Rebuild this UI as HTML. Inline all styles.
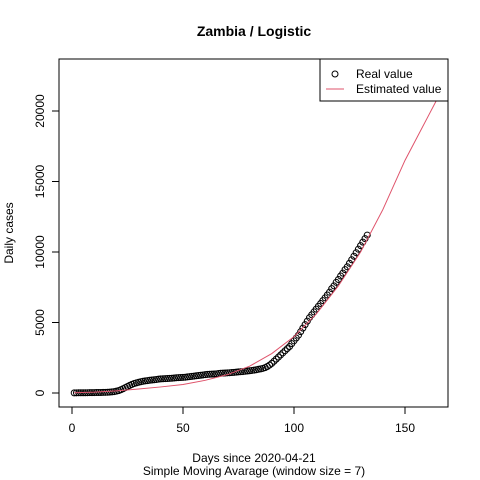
<!DOCTYPE html>
<html><head><meta charset="utf-8"><style>
body{margin:0;background:#fff}
svg{display:block;font-family:"Liberation Sans",Arial,sans-serif}
</style></head><body>
<svg id="chart" width="480" height="480">
<rect width="480" height="480" fill="#fff"/>
<text x="254" y="36" text-anchor="middle" font-weight="bold" font-size="14">Zambia / Logistic</text>
<rect x="59" y="59" width="389" height="348" fill="none" stroke="#000"/>
<g id="xaxis"></g>
<g id="yaxis"></g>
<text x="254" y="462" text-anchor="middle" font-size="12">Days since 2020-04-21</text>
<text x="254" y="475" text-anchor="middle" font-size="12">Simple Moving Avarage (window size = 7)</text>
<text transform="translate(13,233) rotate(-90)" text-anchor="middle" font-size="12">Daily cases</text>
<g id="marks"></g>
<g>
<rect x="320" y="59" width="128" height="42" fill="#fff" stroke="#000"/>
<circle cx="335" cy="74" r="3" fill="none" stroke="#000"/>
<text x="356" y="78" font-size="12">Real value</text>
<line x1="326" y1="89" x2="344" y2="89" stroke="#DF536B"/>
<text x="356" y="93" font-size="12">Estimated value</text>
</g>
</svg>
<script>
const realValues=[10,12,14,16,18,20,22,25,28,30,
32,35,38,42,48,55,65,80,100,130,
170,230,300,380,460,540,610,670,720,760,
800,830,860,880,900,920,940,960,980,1000,
1010,1020,1030,1040,1050,1060,1080,1090,1100,1110,
1120,1140,1160,1180,1200,1220,1240,1260,1280,1300,
1320,1330,1340,1350,1360,1380,1400,1410,1420,1430,
1440,1450,1460,1480,1500,1510,1520,1540,1560,1580,
1600,1620,1650,1680,1710,1750,1800,1880,1980,2100,
2250,2400,2550,2700,2850,3000,3150,3300,3500,3700,
3900,4100,4350,4600,4850,5100,5350,5550,5750,5950,
6150,6350,6550,6750,6950,7150,7400,7600,7850,8050,
8300,8500,8750,8950,9200,9450,9700,9950,10200,10450,
10700,10950,11200];
const estDays=[1,10,20,30,40,50,60,70,80,90,100,110,120,130,140,150,160,165];
const estValues=[20,60,150,280,430,600,900,1300,1900,2800,4000,5600,7600,10000,13000,16500,19500,21000];
const xTicks=[0,50,100,150];
const yTicks=[0,5000,10000,15000,20000];
const X=d=>72+d*(333/150);
const Y=v=>393-v*(282/20000);
const NS="http://www.w3.org/2000/svg";
const mk=(t,a,p)=>{const e=document.createElementNS(NS,t);for(const k in a)e.setAttribute(k,a[k]);p.appendChild(e);return e;};
const xa=document.getElementById('xaxis'),ya=document.getElementById('yaxis'),m=document.getElementById('marks');
mk('line',{x1:X(0),x2:X(150),y1:407,y2:407,stroke:'#000'},xa);
xTicks.forEach(t=>{
 const l=mk('line',{x1:X(t),x2:X(t),y1:407,y2:414,stroke:'#000'},xa);
 
 
 const tx=mk('text',{x:X(t),y:432,'text-anchor':'middle','font-size':12},xa);tx.textContent=t;
 
 
});
mk('line',{x1:59,x2:59,y1:Y(0),y2:Y(20000),stroke:'#000'},ya);
yTicks.forEach(t=>{
 const l=mk('line',{x1:52,x2:59,y1:Y(t),y2:Y(t),stroke:'#000'},ya);
 
 
 const tx=mk('text',{transform:`translate(44,${Y(t)}) rotate(-90)`,'text-anchor':'middle','font-size':12},ya);tx.textContent=t;
 
 
});
realValues.forEach((v,i)=>{
 const c=mk('circle',{cx:X(i+1),cy:Y(v),r:3,fill:'none',stroke:'#000','stroke-width':1},m);
 
 
});
const pl=mk('polyline',{points:estDays.map((d,i)=>X(d)+','+Y(estValues[i])).join(' '),fill:'none',stroke:'#DF536B','stroke-width':1},m);


</script>
</body></html>
